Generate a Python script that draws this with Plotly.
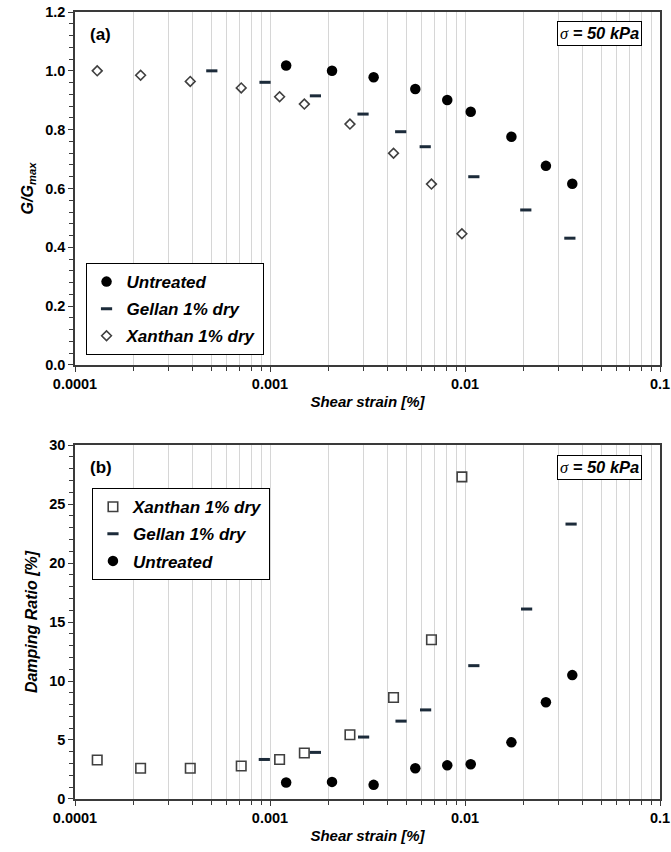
import plotly.graph_objects as go

# ---------------- data ----------------
untreated_strain = [0.00121, 0.00208, 0.00340, 0.00556, 0.00811, 0.0107, 0.0173, 0.0260, 0.0355]
untreated_ggmax = [1.018, 1.000, 0.978, 0.938, 0.901, 0.861, 0.776, 0.677, 0.616]
untreated_damping = [1.4, 1.45, 1.2, 2.6, 2.85, 2.95, 4.8, 8.2, 10.5]

gellan_strain_a = [0.000503, 0.000943, 0.00171, 0.00300, 0.00468, 0.00625, 0.0111, 0.0205, 0.0345]
gellan_ggmax = [1.000, 0.961, 0.915, 0.853, 0.793, 0.742, 0.640, 0.527, 0.431]
gellan_strain_b = [0.000935, 0.00171, 0.00302, 0.00470, 0.00628, 0.0111, 0.0207, 0.0350]
gellan_damping = [3.35, 3.95, 5.25, 6.6, 7.55, 11.3, 16.1, 23.3]

xanthan_strain = [0.000130, 0.000217, 0.000390, 0.000712, 0.00112, 0.00150, 0.00257, 0.00430, 0.00673, 0.00964]
xanthan_ggmax = [1.000, 0.985, 0.964, 0.942, 0.912, 0.887, 0.819, 0.720, 0.615, 0.446]
xanthan_damping = [3.3, 2.6, 2.6, 2.8, 3.35, 3.9, 5.45, 8.6, 13.5, 27.3]

decades = [0.0001, 0.001, 0.01, 0.1]
decade_labels = ["0.0001", "0.001", "0.01", "0.1"]
minor_digits = [2, 3, 4, 5, 6, 7, 8, 9]

# ---------------- styles ----------------
FONT = "Liberation Sans, Arial, sans-serif"
BLACK = "#000000"
GELLAN = "#1c2b3a"
XAN = "#404040"
AXLINE = "#3a3a3a"
GRID = "#d6d6d6"

minor_vals = [d * k for d in decades[:-1] for k in minor_digits]

fig = go.Figure()

# ---- panel (a) ----
fig.add_trace(go.Scatter(x=untreated_strain, y=untreated_ggmax, mode="markers", name="Untreated",
                         marker=dict(symbol="circle", size=10.5, color=BLACK),
                         xaxis="x", yaxis="y", legend="legend", legendgroup="a1"))
fig.add_trace(go.Scatter(x=gellan_strain_a, y=gellan_ggmax, mode="markers", name="Gellan 1% dry",
                         marker=dict(symbol="line-ew", size=8, color=GELLAN,
                                     line=dict(width=3, color=GELLAN)),
                         xaxis="x", yaxis="y", legend="legend", legendgroup="a2"))
fig.add_trace(go.Scatter(x=xanthan_strain, y=xanthan_ggmax, mode="markers", name="Xanthan 1% dry",
                         marker=dict(symbol="diamond-open", size=7.5, color=XAN,
                                     line=dict(width=1.6, color=XAN)),
                         xaxis="x", yaxis="y", legend="legend", legendgroup="a3"))

# ---- panel (b) ----
fig.add_trace(go.Scatter(x=xanthan_strain, y=xanthan_damping, mode="markers", name="Xanthan 1% dry",
                         marker=dict(symbol="square-open", size=9.5, color=XAN,
                                     line=dict(width=1.6, color=XAN)),
                         xaxis="x2", yaxis="y2", legend="legend2", legendgroup="b1"))
fig.add_trace(go.Scatter(x=gellan_strain_b, y=gellan_damping, mode="markers", name="Gellan 1% dry",
                         marker=dict(symbol="line-ew", size=8, color=GELLAN,
                                     line=dict(width=3, color=GELLAN)),
                         xaxis="x2", yaxis="y2", legend="legend2", legendgroup="b2"))
fig.add_trace(go.Scatter(x=untreated_strain, y=untreated_damping, mode="markers", name="Untreated",
                         marker=dict(symbol="circle", size=10.5, color=BLACK),
                         xaxis="x2", yaxis="y2", legend="legend2", legendgroup="b3"))

tickfont = dict(family=FONT, size=14.5, color=BLACK, weight="bold")
xtitlefont = dict(family=FONT, size=15, color=BLACK, weight="bold", style="italic")
ytitlefont = dict(family=FONT, size=16, color=BLACK, weight="bold", style="italic")
legfont = dict(family=FONT, size=17, color=BLACK, weight="bold", style="italic")

xcommon = dict(type="log", range=[-4, -1], tickmode="array", tickvals=decades, ticktext=decade_labels,
               showgrid=True, gridcolor=GRID, gridwidth=1, ticks="outside", ticklen=5,
               tickcolor=AXLINE,
               minor=dict(tickmode="array", tickvals=minor_vals, ticks="outside", ticklen=4,
                          tickcolor=AXLINE, showgrid=True, gridcolor=GRID, gridwidth=1),
               showline=True, linecolor=AXLINE, linewidth=1.5, mirror=True,
               tickfont=tickfont, zeroline=False, automargin=False,
               title=dict(text="Shear strain [%]", font=xtitlefont, standoff=5))

fig.update_layout(
    width=671, height=852,
    margin=dict(l=75, r=11, t=12, b=53),
    paper_bgcolor="white", plot_bgcolor="white",
    showlegend=True,
    xaxis=dict(domain=[0, 1], anchor="y", **xcommon),
    xaxis2=dict(domain=[0, 1], anchor="y2", **xcommon),
    yaxis=dict(domain=[0.5515, 1], anchor="x", range=[0, 1.2], dtick=0.2, tick0=0, tickformat=".1f",
               showgrid=False, ticks="outside", ticklen=5, tickcolor=AXLINE,
               minor=dict(dtick=0.04, ticks="outside", ticklen=4, tickcolor=AXLINE, showgrid=False),
               showline=True, linecolor=AXLINE, linewidth=1.5, mirror=True, zeroline=False,
               tickfont=tickfont, automargin=False,
               title=dict(text="G/G<sub>max</sub>", font=ytitlefont, standoff=8)),
    yaxis2=dict(domain=[0, 0.4498], anchor="x2", range=[0, 30], dtick=5, tick0=0,
                showgrid=False, ticks="outside", ticklen=5, tickcolor=AXLINE,
                minor=dict(dtick=1, ticks="outside", ticklen=4, tickcolor=AXLINE, showgrid=False),
                showline=True, linecolor=AXLINE, linewidth=1.5, mirror=True, zeroline=False,
                tickfont=tickfont, automargin=False,
                title=dict(text="Damping Ratio [%]", font=ytitlefont, standoff=8)),
    legend=dict(x=0.018, y=0.681, xanchor="left", yanchor="top", bgcolor="white",
                bordercolor=BLACK, borderwidth=1, traceorder="grouped", tracegroupgap=2,
                font=legfont, itemwidth=30),
    legend2=dict(x=0.029, y=0.395, xanchor="left", yanchor="top", bgcolor="white",
                 bordercolor=BLACK, borderwidth=1, traceorder="grouped", tracegroupgap=2,
                 font=legfont, itemwidth=30),
)

sigma_text = ('<span style="font-family:Liberation Serif;font-weight:normal">σ</span>'
              ' = 50 kPa')
for ytop, label, ylab in [(0.9886, "(a)", 0.972), (0.437, "(b)", 0.421)]:
    fig.add_annotation(xref="paper", yref="paper", x=0.97, y=ytop, xanchor="right", yanchor="top",
                       text=sigma_text, showarrow=False, bordercolor=BLACK, borderwidth=1,
                       borderpad=2, bgcolor="white",
                       font=dict(family=FONT, size=16.5, color=BLACK, weight="bold", style="italic"))
    fig.add_annotation(xref="paper", yref="paper", x=0.022, y=ylab, xanchor="left", yanchor="middle",
                       text=label, showarrow=False,
                       font=dict(family=FONT, size=17, color=BLACK, weight="bold"))

fig.write_html("out.html")
